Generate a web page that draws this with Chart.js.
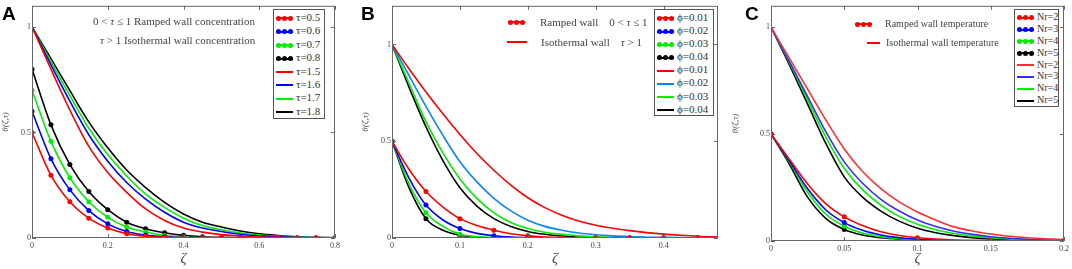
<!DOCTYPE html>
<html lang="en">
<head>
<meta charset="UTF-8">
<title>Ramped vs isothermal wall profiles</title>
<script src="https://cdn.jsdelivr.net/npm/chart.js"></script>
<style>
    body { margin: 0; background: #fff; font-family: "Liberation Serif", "Times New Roman", serif; }
    #wrap { position: relative; width: 1072px; height: 269px; overflow: hidden; }
    .panel { position: absolute; top: 0; height: 269px; }
    .tag { position: absolute; font: bold 19px "Liberation Sans", Arial, sans-serif; color: #000; line-height: 19px; }
    .legend { position: absolute; box-sizing: border-box; border: 1px solid #555; background: #fff; padding: 1px 0 0 2px; color: #333; }
    .legend .row { white-space: nowrap; }
    .note { position: absolute; font-size: 11px; color: #444; white-space: nowrap; line-height: 14px; }
    .sw { display: inline-block; position: relative; width: 17px; height: 8px; vertical-align: middle; margin-right: 3px; }
    .sw::before { content: ''; position: absolute; left: 0; right: 0; top: 3px; height: 2px; background: var(--c); }
    .sw.dots::after { content: ''; position: absolute; left: 0; top: 1.5px; width: 5px; height: 5px; border-radius: 50%;
        background: var(--c); box-shadow: 6px 0 0 var(--c), 12px 0 0 var(--c); }
</style>
</head>
<body>
<div id="wrap">
    <div class="panel" style="left:0;width:360px"><canvas id="chartA" width="360" height="269"></canvas></div>
    <div class="panel" style="left:360px;width:370px"><canvas id="chartB" width="370" height="269"></canvas></div>
    <div class="panel" style="left:730px;width:342px"><canvas id="chartC" width="342" height="269"></canvas></div>

    <div class="tag" style="left:2px;top:4px">A</div>
    <div class="tag" style="left:361px;top:4px">B</div>
    <div class="tag" style="left:745px;top:4px">C</div>

    <div class="note" style="left:93px;top:14px">0 &lt; <i>τ</i> ≤ 1 Ramped wall concentration</div>
    <div class="note" style="left:100px;top:33px"><i>τ</i> &gt; 1 Isothermal wall concentration</div>

    <span class="sw dots" style="position:absolute;left:508px;top:18px;width:17px;--c:#ff0000"></span>
    <div class="note" style="left:540px;top:15px">Ramped wall&nbsp;&nbsp;&nbsp;&nbsp;0 &lt; <i>τ</i> ≤ 1</div>
    <span class="sw" style="position:absolute;left:507px;top:38px;width:20px;--c:#ff0000"></span>
    <div class="note" style="left:541px;top:35px">Isothermal wall&nbsp;&nbsp;&nbsp;&nbsp;<i>τ</i> &gt; 1</div>

    <span class="sw dots" style="position:absolute;left:855px;top:20px;width:17px;--c:#ff0000"></span>
    <div class="note" style="left:885px;top:17px;font-size:10px">Ramped wall temperature</div>
    <span class="sw" style="position:absolute;left:867px;top:39px;width:13px;--c:#ff0000"></span>
    <div class="note" style="left:886px;top:36px;font-size:10px">Isothermal wall temperature</div>

    <div class="legend" id="legA" style="left:273px;top:9px;width:52px;height:110px;font-size:11px"></div>
    <div class="legend" id="legB" style="left:654px;top:9px;width:60px;height:107px;font-size:11px"></div>
    <div class="legend" id="legC" style="left:1014px;top:9px;width:45px;height:98px;font-size:10px"></div>
</div>

<script>
    // ---- panel A: concentration, effect of tau ----
    const xA = [0, 0.05, 0.1, 0.15, 0.2, 0.25, 0.3, 0.35, 0.4, 0.45, 0.5, 0.55, 0.6, 0.65, 0.7, 0.75, 0.8];
    const labelsA = ['τ=0.5', 'τ=0.6', 'τ=0.7', 'τ=0.8', 'τ=1.5', 'τ=1.6', 'τ=1.7', 'τ=1.8'];
    const rampA05 = [0.5, 0.297, 0.172, 0.094, 0.047, 0.02, 0.008, 0.003, 0.001, 0, 0, 0, 0, 0, 0, 0, 0];
    const rampA06 = [0.6, 0.375, 0.228, 0.13, 0.067, 0.031, 0.014, 0.006, 0.002, 0.001, 0, 0, 0, 0, 0, 0, 0];
    const rampA07 = [0.7, 0.458, 0.286, 0.172, 0.098, 0.052, 0.028, 0.012, 0.005, 0.002, 0.001, 0, 0, 0, 0, 0, 0];
    const rampA08 = [0.8, 0.536, 0.348, 0.22, 0.134, 0.075, 0.044, 0.025, 0.0125, 0.006, 0.003, 0.001, 0, 0, 0, 0, 0];
    const isoA15 = [1, 0.80, 0.606, 0.434, 0.31, 0.216, 0.1375, 0.083, 0.047, 0.028, 0.016, 0.009, 0.005, 0.003, 0.001, 0, 0];
    const isoA16 = [1, 0.82, 0.648, 0.489, 0.364, 0.263, 0.184, 0.122, 0.075, 0.047, 0.031, 0.018, 0.01, 0.006, 0.003, 0.001, 0];
    const isoA17 = [1, 0.835, 0.674, 0.52, 0.395, 0.294, 0.208, 0.145, 0.094, 0.059, 0.039, 0.024, 0.014, 0.008, 0.004, 0.002, 0.001];
    const isoA18 = [1, 0.85, 0.698, 0.55, 0.427, 0.322, 0.239, 0.169, 0.114, 0.075, 0.052, 0.033, 0.02, 0.012, 0.006, 0.003, 0.001];
    const xTicksA = [0, 0.2, 0.4, 0.6, 0.8];

    // ---- panel B: effect of phi ----
    const xB = [0, 0.025, 0.05, 0.075, 0.1, 0.125, 0.15, 0.175, 0.2, 0.225, 0.25, 0.275, 0.3, 0.325, 0.35, 0.375, 0.4, 0.425, 0.45, 0.475, 0.5];
    const labelsB = ['ϕ=0.01', 'ϕ=0.02', 'ϕ=0.03', 'ϕ=0.04', 'ϕ=0.01', 'ϕ=0.02', 'ϕ=0.03', 'ϕ=0.04'];
    const rampB1 = [0.5, 0.355, 0.24, 0.16, 0.10, 0.064, 0.04, 0.022, 0.011, 0.005, 0.002, 0.001, 0, 0, 0, 0, 0, 0, 0, 0, 0];
    const rampB2 = [0.5, 0.31, 0.17, 0.093, 0.049, 0.024, 0.012, 0.005, 0.002, 0.001, 0, 0, 0, 0, 0, 0, 0, 0, 0, 0, 0];
    const rampB3 = [0.5, 0.28, 0.13, 0.06, 0.02, 0.007, 0.002, 0.001, 0, 0, 0, 0, 0, 0, 0, 0, 0, 0, 0, 0, 0];
    const rampB4 = [0.5, 0.26, 0.10, 0.04, 0.014, 0.004, 0.001, 0, 0, 0, 0, 0, 0, 0, 0, 0, 0, 0, 0, 0, 0];
    const isoB1 = [1, 0.875, 0.755, 0.642, 0.535, 0.437, 0.35, 0.273, 0.208, 0.157, 0.118, 0.088, 0.066, 0.05, 0.038, 0.028, 0.02, 0.014, 0.009, 0.006, 0.004];
    const isoB2 = [1, 0.84, 0.68, 0.53, 0.394, 0.29, 0.205, 0.14, 0.092, 0.06, 0.04, 0.026, 0.017, 0.011, 0.007, 0.004, 0.003, 0.002, 0.001, 0, 0];
    const isoB3 = [1, 0.80, 0.60, 0.44, 0.305, 0.205, 0.13, 0.08, 0.049, 0.03, 0.019, 0.011, 0.006, 0.003, 0.002, 0.001, 0, 0, 0, 0, 0];
    const isoB4 = [1, 0.78, 0.575, 0.40, 0.26, 0.165, 0.10, 0.06, 0.034, 0.019, 0.01, 0.005, 0.002, 0.001, 0, 0, 0, 0, 0, 0, 0];
    const xTicksB = [0, 0.1, 0.2, 0.3, 0.4];

    // ---- panel C: effect of Nr ----
    const xC = [0, 0.0125, 0.025, 0.0375, 0.05, 0.0625, 0.075, 0.0875, 0.1, 0.1125, 0.125, 0.1375, 0.15, 0.1625, 0.175, 0.1875, 0.2];
    const labelsC = ['Nr=2', 'Nr=3', 'Nr=4', 'Nr=5', 'Nr=2', 'Nr=3', 'Nr=4', 'Nr=5'];
    const rampC2 = [0.5, 0.383, 0.267, 0.174, 0.113, 0.072, 0.043, 0.026, 0.015, 0.009, 0.005, 0.003, 0.002, 0.001, 0, 0, 0];
    const rampC3 = [0.5, 0.375, 0.244, 0.145, 0.086, 0.05, 0.028, 0.015, 0.008, 0.004, 0.002, 0.001, 0, 0, 0, 0, 0];
    const rampC4 = [0.5, 0.37, 0.228, 0.125, 0.069, 0.037, 0.02, 0.011, 0.006, 0.003, 0.001, 0, 0, 0, 0, 0, 0];
    const rampC5 = [0.5, 0.36, 0.205, 0.105, 0.054, 0.028, 0.015, 0.008, 0.004, 0.002, 0.001, 0, 0, 0, 0, 0, 0];
    const isoC2 = [1, 0.855, 0.71, 0.565, 0.43, 0.325, 0.245, 0.183, 0.136, 0.098, 0.066, 0.047, 0.033, 0.022, 0.015, 0.01, 0.007];
    const isoC3 = [1, 0.84, 0.675, 0.51, 0.37, 0.27, 0.195, 0.14, 0.098, 0.068, 0.046, 0.031, 0.02, 0.013, 0.008, 0.005, 0.003];
    const isoC4 = [1, 0.835, 0.66, 0.485, 0.34, 0.24, 0.168, 0.115, 0.078, 0.053, 0.035, 0.023, 0.015, 0.009, 0.006, 0.004, 0.002];
    const isoC5 = [1, 0.825, 0.64, 0.455, 0.30, 0.205, 0.14, 0.093, 0.06, 0.039, 0.025, 0.016, 0.01, 0.006, 0.004, 0.002, 0.001];
    const xTicksC = [0, 0.05, 0.1, 0.15, 0.2];

    const yTicks = [0, 0.5, 1];

    Chart.defaults.font.family = '"Liberation Serif", "Times New Roman", serif';

    // box round the plot with inward ticks on all four sides
    const framePlugin = {
        id: 'frame',
        afterDatasetsDraw(chart) {
            const { ctx, chartArea: a, scales } = chart;
            ctx.save();
            ctx.strokeStyle = '#666';
            ctx.lineWidth = 1;
            ctx.strokeRect(a.left + 0.5, a.top + 0.5, a.width - 1, a.height - 1);
            ctx.beginPath();
            scales.x.ticks.forEach(t => {
                const px = Math.round(scales.x.getPixelForValue(t.value)) + 0.5;
                ctx.moveTo(px, a.bottom); ctx.lineTo(px, a.bottom - 4);
                ctx.moveTo(px, a.top); ctx.lineTo(px, a.top + 4);
            });
            scales.y.ticks.forEach(t => {
                const py = Math.round(scales.y.getPixelForValue(t.value)) + 0.5;
                ctx.moveTo(a.left, py); ctx.lineTo(a.left + 4, py);
                ctx.moveTo(a.right, py); ctx.lineTo(a.right - 4, py);
            });
            ctx.stroke();
            ctx.restore();
        }
    };

    function makeChart(id, xs, series, o) {
        const datasets = series.map(s => ({
            label: s.label,
            data: xs.map((x, i) => ({ x: x, y: s.data[i] })),
            borderColor: s.color,
            backgroundColor: s.color,
            borderWidth: 1.6,
            cubicInterpolationMode: 'monotone',
            pointRadius: s.dots ? (c => (c.index % o.markEvery === 0 ? 2.5 : 0)) : 0,
            pointBorderWidth: 0,
            clip: 0
        }));

        return new Chart(document.getElementById(id), {
            type: 'line',
            data: { datasets: datasets },
            options: {
                responsive: false,
                animation: false,
                devicePixelRatio: 1,
                layout: { padding: { top: o.top, right: o.right, left: 0, bottom: 0 } },
                plugins: { legend: { display: false }, tooltip: { enabled: false } },
                scales: {
                    x: {
                        type: 'linear', min: 0, max: o.xMax,
                        afterBuildTicks: s => { s.ticks = o.xTicks.map(v => ({ value: v })); },
                        afterFit: s => { s.height = o.xHeight; },
                        grid: { display: false, drawTicks: false },
                        border: { display: false },
                        ticks: { color: '#444', font: { size: 8 }, padding: 3, maxRotation: 0, callback: v => String(v) },
                        title: { display: true, text: 'ζ', color: '#444', font: { size: 15, style: 'italic' }, padding: { top: 0, bottom: 1 } }
                    },
                    y: {
                        type: 'linear', min: 0, max: o.yMax,
                        afterBuildTicks: s => { s.ticks = yTicks.map(v => ({ value: v })); },
                        afterFit: s => { s.width = o.yWidth; },
                        grid: { display: false, drawTicks: false },
                        border: { display: false },
                        ticks: { color: '#444', font: { size: 8 }, padding: 1, callback: v => String(v) },
                        title: { display: true, text: 'θ(ζ,τ)', color: '#555', font: { size: 9, style: 'italic' }, padding: { top: 0, bottom: 0 } }
                    }
                }
            },
            plugins: [framePlugin]
        });
    }

    function buildLegend(id, series, rowHeight) {
        const box = document.getElementById(id);
        series.forEach(s => {
            const row = document.createElement('div');
            row.className = 'row';
            row.style.height = rowHeight + 'px';
            row.style.lineHeight = rowHeight + 'px';
            const sw = document.createElement('span');
            sw.className = s.dots ? 'sw dots' : 'sw';
            sw.style.setProperty('--c', s.color);
            row.appendChild(sw);
            row.appendChild(document.createTextNode(s.label));
            box.appendChild(row);
        });
    }

    const colors = ['#ff0000', '#0000ff', '#00ee00', '#000000'];

    const seriesA = [rampA05, rampA06, rampA07, rampA08, isoA15, isoA16, isoA17, isoA18].map((d, i) => ({
        label: labelsA[i], data: d, color: colors[i % 4], dots: i < 4
    }));
    const isoColorsB = ['#ff0000', '#0a84ff', '#00ee00', '#000000'];
    const seriesB = [rampB1, rampB2, rampB3, rampB4, isoB1, isoB2, isoB3, isoB4].map((d, i) => ({
        label: labelsB[i], data: d, color: i < 4 ? colors[i] : isoColorsB[i - 4], dots: i < 4
    }));
    const isoColorsC = ['#ff3030', '#3030ff', '#00ee00', '#000000'];
    const seriesC = [rampC2, rampC3, rampC4, rampC5, isoC2, isoC3, isoC4, isoC5].map((d, i) => ({
        label: labelsC[i], data: d, color: i < 4 ? colors[i] : isoColorsC[i - 4], dots: i < 4
    }));

    makeChart('chartA', xA, seriesA, { xMax: 0.8, yMax: 1.1, xTicks: xTicksA, markEvery: 1, top: 3, right: 25, xHeight: 31, yWidth: 32 });
    makeChart('chartB', xB, seriesB, { xMax: 0.48, yMax: 1.2, xTicks: xTicksB, markEvery: 2, top: 4, right: 12, xHeight: 31, yWidth: 32 });
    makeChart('chartC', xC, seriesC, { xMax: 0.2, yMax: 1.1, xTicks: xTicksC, markEvery: 4, top: 5, right: 8, xHeight: 28, yWidth: 41 });

    buildLegend('legA', seriesA, 13.4);
    buildLegend('legB', seriesB, 13.1);
    buildLegend('legC', seriesC, 11.9);
</script>
</body>
</html>
